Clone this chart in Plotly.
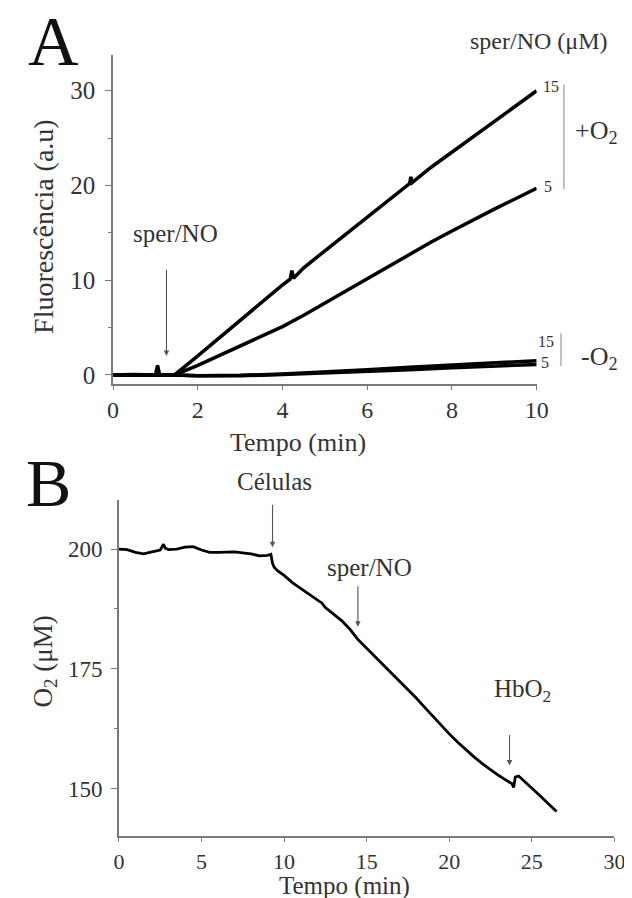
import plotly.graph_objects as go

# ---------------- Panel A data (Fluorescência vs Tempo) ----------------
tA_15_o2 = [0, 0.5, 1.0, 1.05, 1.1, 1.45, 2, 2.5, 3, 3.5, 4, 4.18, 4.22, 4.26, 4.5, 5, 5.5, 6, 6.5, 7, 7.03, 7.06, 7.5, 8, 8.5, 9, 9.5, 10]
yA_15_o2 = [0, 0.05, 0, 1.0, 0, 0, 2.0, 3.9, 5.8, 7.6, 9.5, 10.1, 11.0, 10.2, 11.3, 13.1, 14.9, 16.7, 18.4, 20.2, 20.9, 20.3, 21.9, 23.5, 25.1, 26.8, 28.4, 30.0]

tA_5_o2 = [0, 0.5, 1.0, 1.45, 2, 2.5, 3, 3.5, 4, 4.5, 5, 5.5, 6, 6.5, 7, 7.5, 8, 8.5, 9, 9.5, 10]
yA_5_o2 = [0, 0, 0, 0, 1.0, 2.0, 3.0, 4.0, 5.1, 6.3, 7.6, 8.9, 10.2, 11.5, 12.8, 14.0, 15.2, 16.4, 17.5, 18.6, 19.7]

tA_15_no = [0, 0.5, 1.0, 1.45, 2, 3, 4, 5, 6, 7, 8, 9, 10]
yA_15_no = [0, 0, 0, 0, -0.1, -0.05, 0.1, 0.3, 0.55, 0.8, 1.05, 1.3, 1.5]

tA_5_no = [0, 0.5, 1.0, 1.45, 2, 3, 4, 5, 6, 7, 8, 9, 10]
yA_5_no = [0, 0, 0, 0, -0.1, -0.1, 0.05, 0.2, 0.4, 0.55, 0.75, 0.95, 1.1]

xA_ticks = [0, 2, 4, 6, 8, 10]
yA_ticks = [0, 10, 20, 30]

# ---------------- Panel B data (O2 vs Tempo) ----------------
tB = [0, 0.5, 1, 1.5, 2, 2.5, 2.7, 2.8, 3, 3.5, 4, 4.5, 5, 5.5, 6, 7, 8, 8.5, 9, 9.2, 9.3, 9.4, 9.6,
      10, 10.5, 11, 11.5, 12, 12.3, 12.5, 13, 13.5, 14, 14.5, 15, 15.5, 16, 16.5, 17, 17.5, 18, 18.5,
      19, 19.5, 20, 20.5, 21, 21.5, 22, 22.5, 23, 23.5, 23.8, 23.9, 24.0, 24.2, 24.5, 25, 25.5, 26, 26.5]
o2B = [200, 199.9, 199.3, 199.0, 199.4, 199.8, 201.0, 200.2, 199.9, 200.0, 200.4, 200.5, 199.8, 199.3, 199.3,
       199.4, 199.0, 198.6, 198.7, 198.9, 197.0, 196.2, 195.5,
       194.5, 193.0, 191.8, 190.5, 189.3, 188.7, 187.8, 186.4, 185.0, 183.2, 181.0, 179.3, 177.6, 175.9,
       174.2, 172.5, 170.8, 168.9, 167.0, 165.1, 163.2, 161.4, 159.7, 158.1, 156.6, 155.2, 153.9, 152.7,
       151.6, 151.0, 150.2, 152.4, 152.6, 151.7, 150.1, 148.5, 146.8, 145.2]

xB_ticks = [0, 5, 10, 15, 20, 25, 30]
yB_ticks = [150, 175, 200]

W, H = 632, 898
FONT = "Liberation Serif"
AX = "#7a7a7a"
TXT = "#333333"

def px(x):
    return x / W

def py(y):
    return 1 - y / H

fig = go.Figure()
for t, y in [(tA_15_o2, yA_15_o2), (tA_5_o2, yA_5_o2), (tA_15_no, yA_15_no), (tA_5_no, yA_5_no)]:
    fig.add_trace(go.Scatter(x=t, y=y, mode="lines", line=dict(color="black", width=3.5),
                             xaxis="x", yaxis="y", showlegend=False))
fig.add_trace(go.Scatter(x=tB, y=o2B, mode="lines", line=dict(color="black", width=2.8),
                         xaxis="x2", yaxis="y2", showlegend=False))

axis_common = dict(showgrid=False, zeroline=False, showline=True, linecolor=AX, linewidth=1.5,
                   ticks="outside", tickcolor=AX, tickwidth=1.2)

fig.update_layout(
    width=W, height=H, margin=dict(l=0, r=0, t=0, b=0),
    paper_bgcolor="white", plot_bgcolor="white",
    font=dict(family=FONT, color=TXT),
    xaxis=dict(domain=[px(102), px(538)], range=[0, 10], tickvals=xA_ticks, anchor="y", ticklen=4,
               tickfont=dict(size=24, family=FONT, color=TXT), **axis_common),
    yaxis=dict(domain=[py(378), py(47)], range=[-0.95, 33.8], tickvals=yA_ticks, anchor="x", ticklen=6,
               ticklabelstandoff=5,
               tickfont=dict(size=25, family=FONT, color=TXT),
               minor=dict(ticks="outside", ticklen=3, tickcolor=AX, dtick=5, tick0=0), **axis_common),
    xaxis2=dict(domain=[px(108), px(618)], range=[0, 30], tickvals=xB_ticks, anchor="y2", ticklen=4,
                tickfont=dict(size=22, family=FONT, color=TXT), **axis_common),
    yaxis2=dict(domain=[py(833), py(495)], range=[140, 210.2], tickvals=yB_ticks, anchor="x2", ticklen=6,
                ticklabelstandoff=4,
                tickfont=dict(size=23, family=FONT, color=TXT),
                minor=dict(ticks="outside", ticklen=3, tickcolor=AX, dtick=12.5, tick0=0), **axis_common),
)

def txt(x, y, s, size, color=TXT, angle=0):
    fig.add_annotation(x=px(x), y=py(y), xref="paper", yref="paper", text=s, showarrow=False,
                       font=dict(family=FONT, size=size, color=color), textangle=angle,
                       xanchor="center", yanchor="middle")

# panel letters
txt(41, 34, "A", 70, "#111111")
txt(36, 478, "B", 68, "#111111")

# axis titles
txt(31, 220, "Fluorescência (a.u)", 28, angle=-90)
txt(292, 437, "Tempo (min)", 26)
txt(32, 657, "O<sub>2</sub> (μM)", 27, angle=-90)
txt(340, 883, "Tempo (min)", 25)

# panel A labels
txt(166, 227, "sper/NO", 25)
txt(540, 33, "sper/NO (μM)", 24)
txt(553, 79, "15", 16)
txt(550, 179, "5", 16)
txt(600, 125, "+O<sub>2</sub>", 26)
txt(548, 335, "15", 16)
txt(547, 356, "5", 16)
txt(603, 352, "-O<sub>2</sub>", 26)

# panel B labels
txt(268, 476, "Células", 25)
txt(366, 563, "sper/NO", 25)
txt(523, 686, "HbO<sub>2</sub>", 25)

# bracket lines
for (x0, y0, y1) in [(566, 77, 182), (563, 327, 360)]:
    fig.add_shape(type="line", xref="paper", yref="paper", x0=px(x0), x1=px(x0), y0=py(y0), y1=py(y1),
                  line=dict(color="#9a9a9a", width=1.2))

# arrows
def arrow(x, y, xa, ya, length):
    fig.add_annotation(x=x, y=y, xref=xa, yref=ya, ax=0, ay=-length, text="", showarrow=True,
                       arrowhead=2, arrowsize=1, arrowwidth=1.1, arrowcolor="#555555")

arrow(1.26, 2.0, "x", "y", 88)
arrow(9.3, 200.4, "x2", "y2", 44)
arrow(14.47, 183.8, "x2", "y2", 42)
arrow(23.65, 154.8, "x2", "y2", 32)

fig.write_html("out.html")
